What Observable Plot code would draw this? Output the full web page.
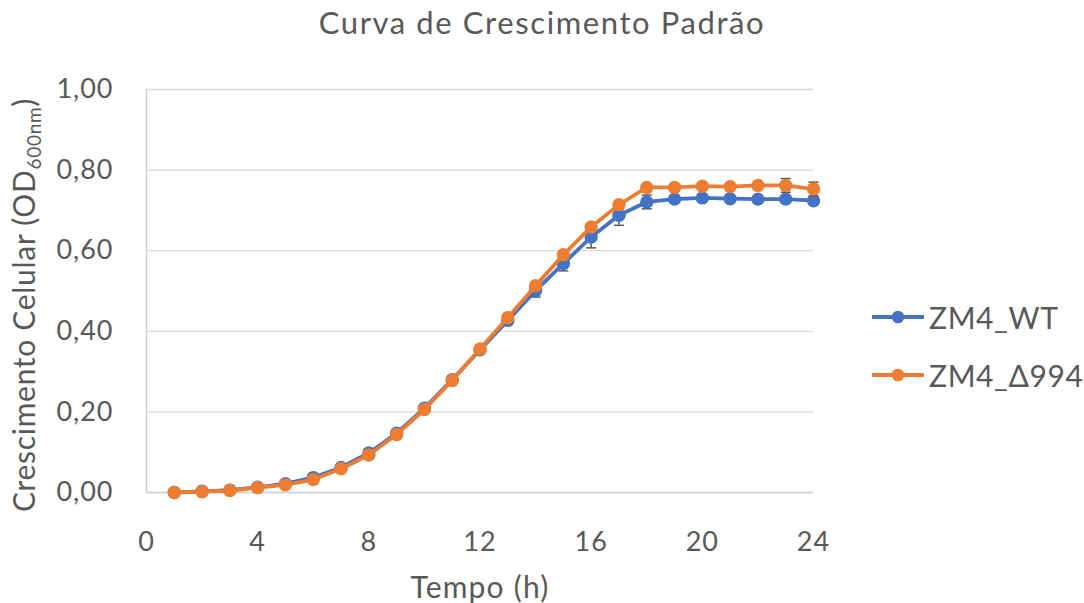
<!DOCTYPE html>
<html>
<head>
<meta charset="utf-8">
<script src="https://cdn.jsdelivr.net/npm/d3@7"></script>
<script src="https://cdn.jsdelivr.net/npm/@observablehq/plot@0.6"></script>
<style>
  html, body { margin: 0; padding: 0; background: #fff; }
  #wrap { position: relative; width: 1084px; height: 603px; font-family: Lato, "Open Sans", sans-serif; color: #595959; }
  #title { height: 56px; padding-top: 4px; width: 1084px; text-align: center; font-size: 31px; line-height: 36px; letter-spacing: 1.6px; }
  #legend { position: absolute; left: 870px; top: 288px; font-size: 30px; letter-spacing: 0.6px; }
  .item { display: flex; align-items: center; height: 58px; }
  .item svg { margin-right: 3px; }
</style>
</head>
<body>
<div id="wrap">
  <div id="title">Curva de Crescimento Padrão</div>
  <div id="chart"></div>
  <div id="legend"></div>
</div>
<script>
const hours = [1,2,3,4,5,6,7,8,9,10,11,12,13,14,15,16,17,18,19,20,21,22,23,24];
const seriesNames = ["ZM4_WT", "ZM4_Δ994"];
const seriesColors = ["#4472C4", "#ED7D31"];
const wtValues = [0.000,0.003,0.006,0.013,0.022,0.037,0.062,0.098,0.147,0.209,0.280,0.354,0.427,0.501,0.568,0.634,0.688,0.721,0.728,0.731,0.729,0.728,0.728,0.724];
const wtErrors = [0.000,0.001,0.001,0.002,0.003,0.003,0.004,0.005,0.006,0.007,0.008,0.008,0.010,0.016,0.018,0.027,0.025,0.017,0.008,0.006,0.006,0.007,0.007,0.006];
const d994Values = [0.000,0.002,0.005,0.012,0.019,0.032,0.059,0.093,0.144,0.206,0.278,0.356,0.434,0.513,0.590,0.659,0.714,0.757,0.757,0.760,0.759,0.762,0.762,0.753];
const d994Errors = [0.000,0.001,0.001,0.002,0.002,0.003,0.003,0.004,0.005,0.005,0.005,0.005,0.006,0.006,0.006,0.007,0.007,0.006,0.006,0.006,0.007,0.010,0.017,0.017];
const xTicks = [0,4,8,12,16,20,24];
const yTicks = [0,0.2,0.4,0.6,0.8,1.0];

const wt = hours.map((t,i) => ({t, v: wtValues[i], e: wtErrors[i]}));
const d9 = hours.map((t,i) => ({t, v: d994Values[i], e: d994Errors[i]}));

const capHalf = 0.18;
function seriesMarks(data, color) {
  return [
    Plot.ruleX(data, {x: "t", y1: d => d.v - d.e, y2: d => d.v + d.e, stroke: "#595959", strokeWidth: 1.5}),
    Plot.link(data, {x1: d => d.t - capHalf, x2: d => d.t + capHalf, y1: d => d.v - d.e, y2: d => d.v - d.e, stroke: "#595959", strokeWidth: 1.5}),
    Plot.link(data, {x1: d => d.t - capHalf, x2: d => d.t + capHalf, y1: d => d.v + d.e, y2: d => d.v + d.e, stroke: "#595959", strokeWidth: 1.5}),
    Plot.line(data, {x: "t", y: "v", stroke: color, strokeWidth: 3.8}),
    Plot.dot(data, {x: "t", y: "v", r: 6.7, fill: color, stroke: "none"})
  ];
}

const fmt = d => d.toFixed(2).replace(".", ",");
const font = "Lato, 'Open Sans', sans-serif";

const chart = Plot.plot({
  width: 1084,
  height: 543,
  marginLeft: 146,
  marginRight: 271,
  marginTop: 29,
  marginBottom: 111,
  style: {fontFamily: font, color: "#595959", background: "#fff", overflow: "visible"},
  x: {domain: [0, 24], label: null},
  y: {domain: [0, 1], label: null},
  marks: [
    Plot.gridY(yTicks, {stroke: "#d9d9d9", strokeOpacity: 1, strokeWidth: 1.3}),
    Plot.ruleX([0], {stroke: "#d0d0d0", strokeWidth: 1.5}),
    Plot.ruleY([0], {stroke: "#d0d0d0", strokeWidth: 1.5}),
    Plot.axisX({ticks: xTicks, tickSize: 0, tickPadding: 39, label: null, fill: "#595959"}),
    Plot.axisY({ticks: yTicks, tickSize: 0, tickPadding: 33, tickFormat: fmt, label: null, fill: "#595959"}),
    ...seriesMarks(wt, seriesColors[0]),
    ...seriesMarks(d9, seriesColors[1])
  ]
});
document.getElementById("chart").appendChild(chart);

const svg = d3.select(chart);
svg.selectAll("g[aria-label='x-axis tick label'], g[aria-label='y-axis tick label']")
  .attr("font-size", 27).style("letter-spacing", "1px");

// axis titles
svg.append("text")
  .attr("x", 480).attr("y", 538)
  .attr("text-anchor", "middle")
  .attr("fill", "#595959").attr("font-size", 30)
  .attr("font-family", font)
  .style("letter-spacing", "1.2px")
  .text("Tempo (h)");

const yl = svg.append("text")
  .attr("transform", "translate(35,245) rotate(-90)")
  .attr("text-anchor", "middle")
  .attr("fill", "#595959").attr("font-size", 30)
  .attr("font-family", font)
  .style("letter-spacing", "0.7px");
yl.append("tspan").text("Crescimento Celular (OD");
yl.append("tspan").attr("font-size", 19).attr("dy", 6).text("600nm");
yl.append("tspan").attr("dy", -6).text(")");

// legend
const legend = d3.select("#legend");
seriesNames.forEach((name, i) => {
  const item = legend.append("div").attr("class", "item");
  const s = item.append("svg").attr("width", 56).attr("height", 20);
  s.append("line").attr("x1", 2).attr("x2", 54).attr("y1", 10).attr("y2", 10)
    .attr("stroke", seriesColors[i]).attr("stroke-width", 3.8);
  s.append("circle").attr("cx", 28).attr("cy", 10).attr("r", 6.3).attr("fill", seriesColors[i]);
  item.append("span").text(name);
});
</script>
</body>
</html>
